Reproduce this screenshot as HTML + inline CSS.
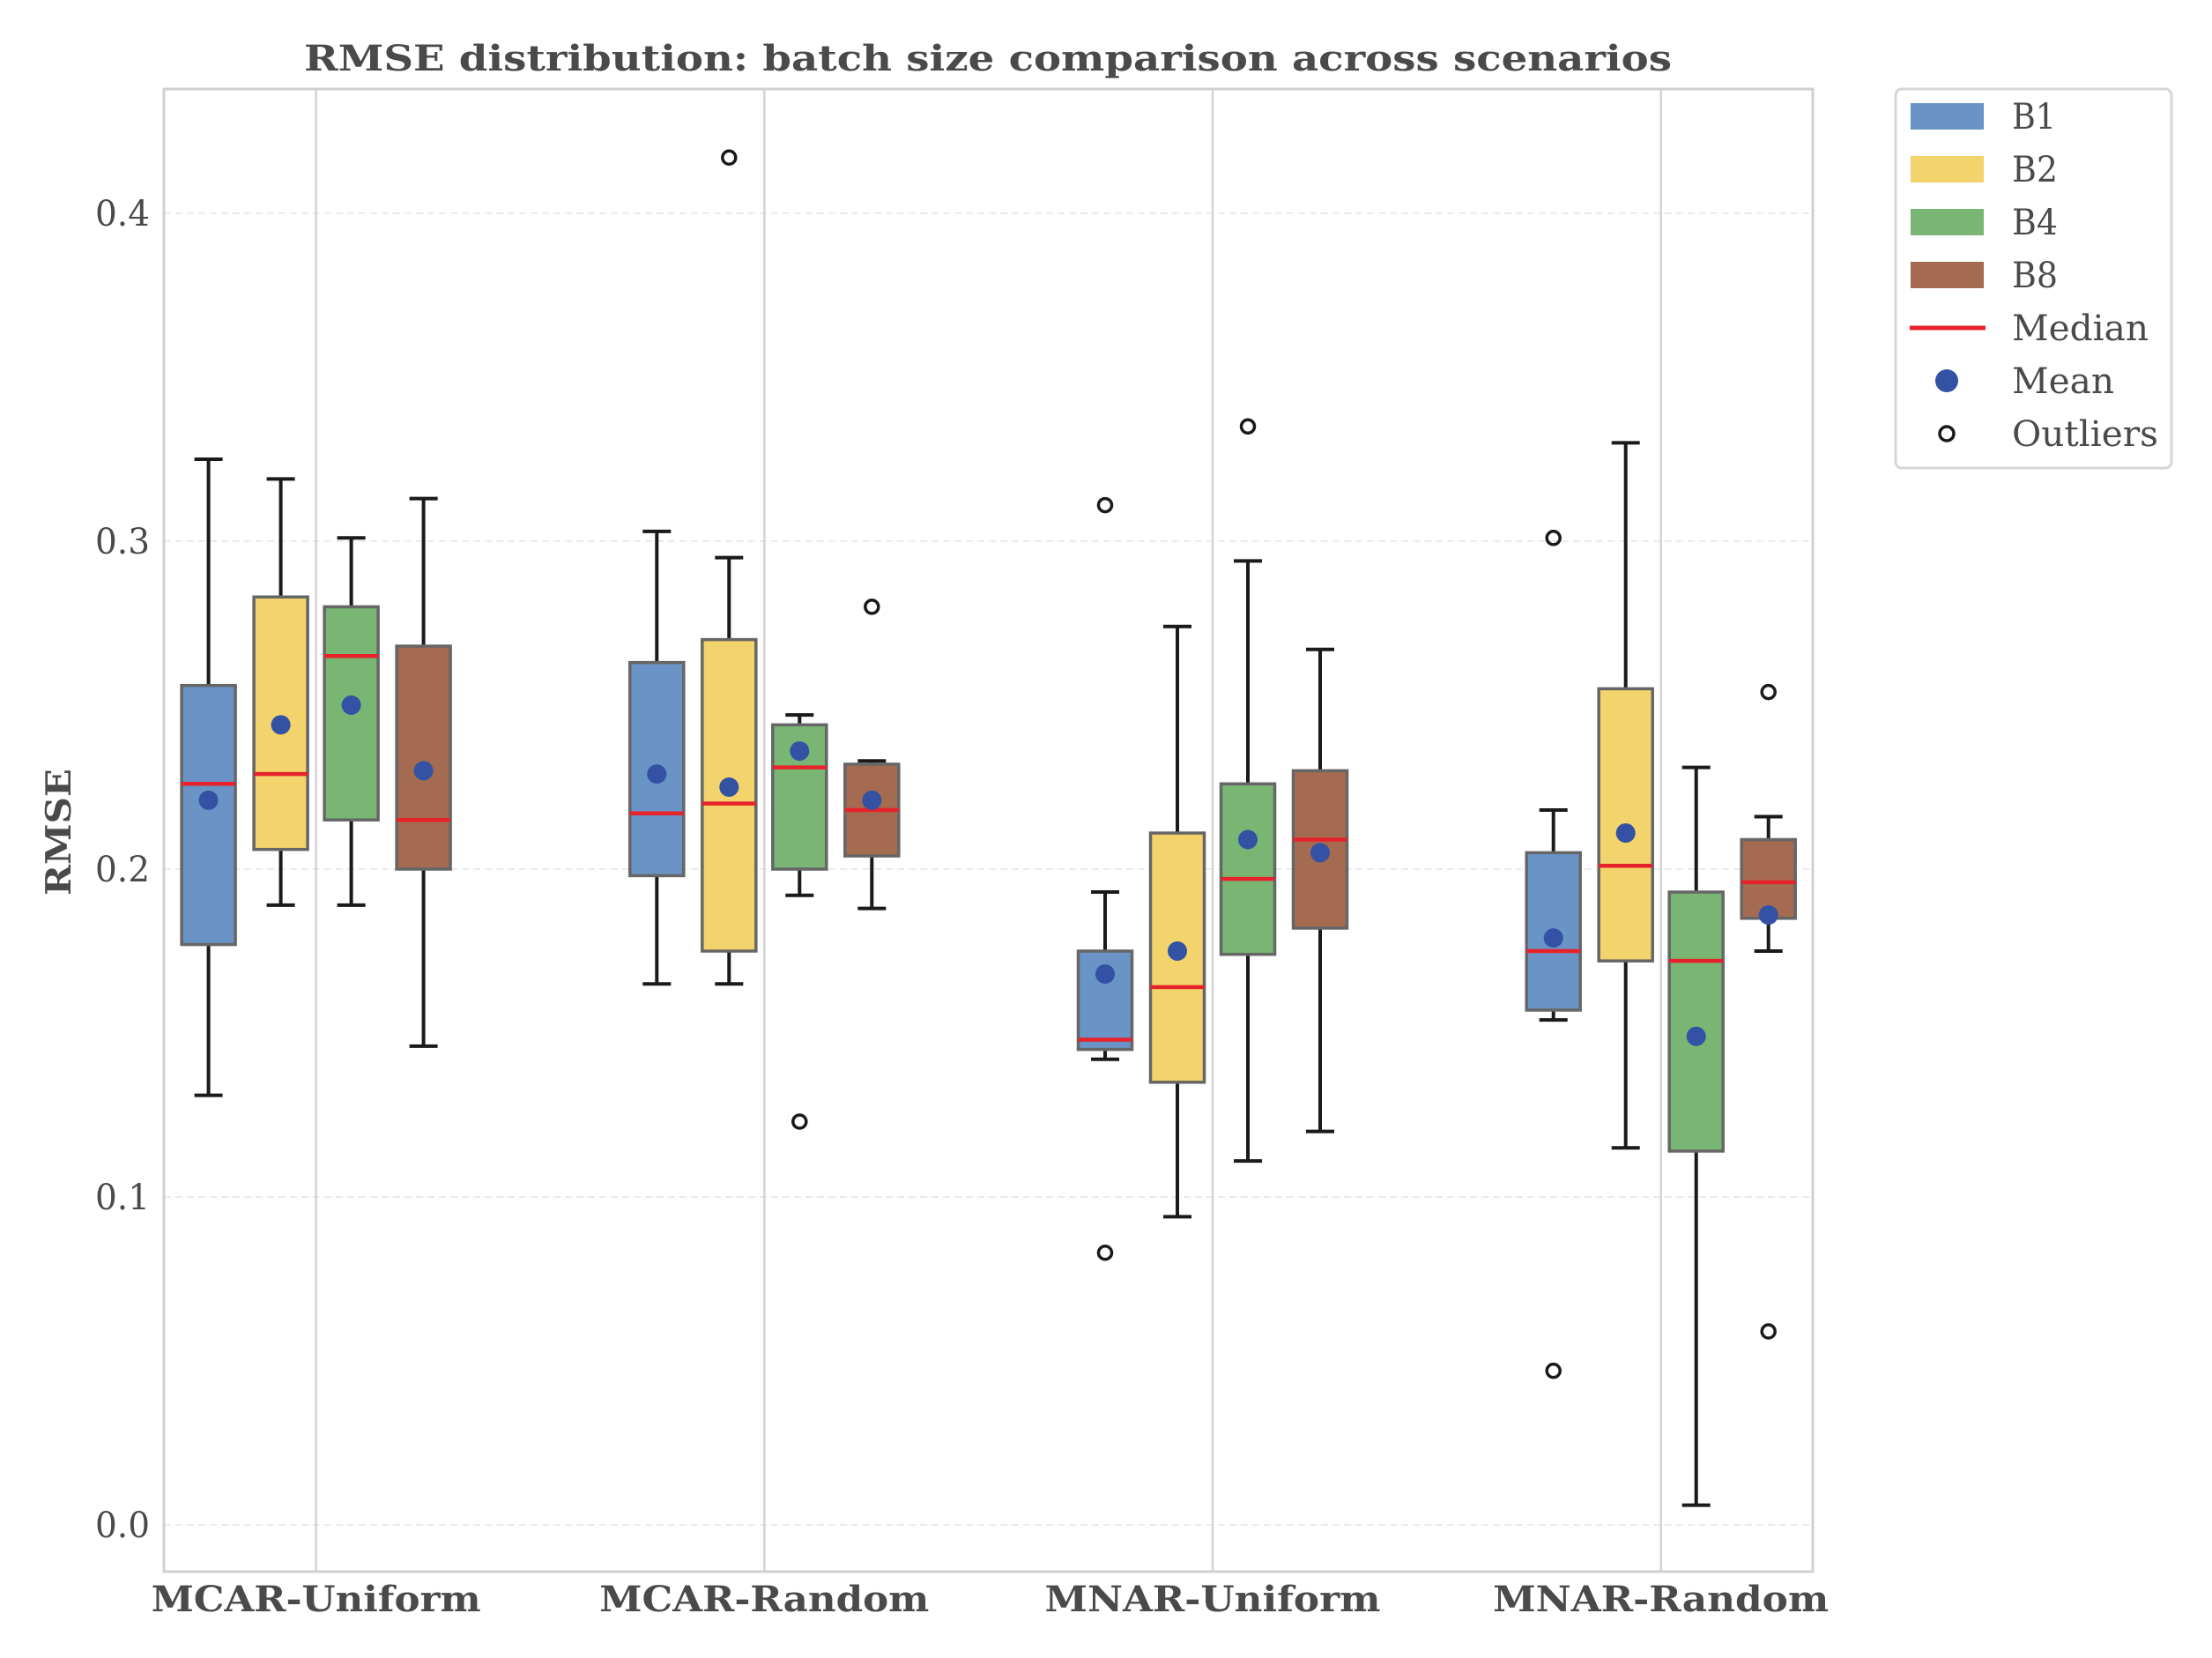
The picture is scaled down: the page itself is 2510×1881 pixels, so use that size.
<!DOCTYPE html>
<html><head><meta charset="utf-8"><style>
html,body{margin:0;padding:0;background:#fff}
svg text{font-family:"DejaVu Serif","Liberation Serif",serif;fill:#4a4a4d}
</style></head><body>
<svg id="chart" width="2510" height="1876" viewBox="0 0 2510 1876" xmlns="http://www.w3.org/2000/svg">
<rect width="2510" height="1876" fill="#fff"/>
<g id="grid"></g>
<g id="boxes"></g>
<rect x="186" y="101" width="1871" height="1682" fill="none" stroke="#d0d0d0" stroke-width="3"/>
<g id="axes"></g>
<text x="1121" y="80" font-size="40" font-weight="bold" text-anchor="middle" textLength="1552" lengthAdjust="spacingAndGlyphs">RMSE distribution: batch size comparison across scenarios</text>
<text transform="translate(80,944) rotate(-90)" font-size="39" font-weight="bold" text-anchor="middle" textLength="144" lengthAdjust="spacingAndGlyphs">RMSE</text>
<g id="legend"></g>
</svg>
<script>
const categories=["MCAR-Uniform","MCAR-Random","MNAR-Uniform","MNAR-Random"];
const series=["B1","B2","B4","B8"];
const colors=["#6a93c6","#f3d36b","#79b674","#a46b51"];
const whisLo={B1:[0.131,0.165,0.142,0.154],B2:[0.189,0.165,0.094,0.115],B4:[0.189,0.192,0.111,0.006],B8:[0.146,0.188,0.120,0.175]};
const q1={B1:[0.177,0.198,0.145,0.157],B2:[0.206,0.175,0.135,0.172],B4:[0.215,0.200,0.174,0.114],B8:[0.200,0.204,0.182,0.185]};
const med={B1:[0.226,0.217,0.148,0.175],B2:[0.229,0.220,0.164,0.201],B4:[0.265,0.231,0.197,0.172],B8:[0.215,0.218,0.209,0.196]};
const q3={B1:[0.256,0.263,0.175,0.205],B2:[0.283,0.270,0.211,0.255],B4:[0.280,0.244,0.226,0.193],B8:[0.268,0.232,0.230,0.209]};
const whisHi={B1:[0.325,0.303,0.193,0.218],B2:[0.319,0.295,0.274,0.330],B4:[0.301,0.247,0.294,0.231],B8:[0.313,0.233,0.267,0.216]};
const means={B1:[0.221,0.229,0.168,0.179],B2:[0.244,0.225,0.175,0.211],B4:[0.250,0.236,0.209,0.149],B8:[0.230,0.221,0.205,0.186]};
const outliers={B1:[[],[],[0.311,0.083],[0.301,0.047]],B2:[[],[0.417],[],[]],B4:[[],[0.123],[0.335],[]],B8:[[],[0.280],[],[0.254,0.059]]};
const yTicks=[0.0,0.1,0.2,0.3,0.4];
const yTickLabels=["0.0","0.1","0.2","0.3","0.4"];

const NS="http://www.w3.org/2000/svg";
const y=v=>1730-v*3720;
const xCat=i=>358.6+i*508.7;
const offsets=[-122,-40,40,122];
const bw=61;
const catLabelW=[374,374,381,381];
function mk(tag,attrs,parent){const e=document.createElementNS(NS,tag);for(const k in attrs)e.setAttribute(k,attrs[k]);parent.appendChild(e);return e;}
const grid=document.getElementById('grid'),boxes=document.getElementById('boxes'),axes=document.getElementById('axes'),legend=document.getElementById('legend');
yTicks.forEach((t,i)=>{
  const l=mk('line',{x1:186,x2:2057,y1:y(t),y2:y(t),stroke:'#ebebeb','stroke-width':2,'stroke-dasharray':'8,5'},grid);
  
  
  const tx=mk('text',{x:170,y:y(t)+14,'font-size':40,'text-anchor':'end',textLength:62,lengthAdjust:'spacingAndGlyphs'},axes);
  tx.textContent=yTickLabels[i];
  
  
});
categories.forEach((c,i)=>{
  const l=mk('line',{x1:xCat(i),x2:xCat(i),y1:101,y2:1783,stroke:'#d3d3d3','stroke-width':2.5},grid);
  
  
  const tx=mk('text',{x:xCat(i),y:1828,'font-size':40,'font-weight':'bold','text-anchor':'middle',textLength:catLabelW[i],lengthAdjust:'spacingAndGlyphs'},axes);
  tx.textContent=c;
  
  
});
series.forEach((s,si)=>{
  categories.forEach((c,ci)=>{
    const cx=xCat(ci)+offsets[si];
    const g=mk('g',{},boxes);
    
    
    const ws={stroke:'#1a1a1a','stroke-width':4};
    mk('line',Object.assign({x1:cx,x2:cx,y1:y(whisHi[s][ci]),y2:y(q3[s][ci])},ws),g);
    mk('line',Object.assign({x1:cx,x2:cx,y1:y(q1[s][ci]),y2:y(whisLo[s][ci])},ws),g);
    mk('line',Object.assign({x1:cx-16,x2:cx+16,y1:y(whisHi[s][ci]),y2:y(whisHi[s][ci])},ws),g);
    mk('line',Object.assign({x1:cx-16,x2:cx+16,y1:y(whisLo[s][ci]),y2:y(whisLo[s][ci])},ws),g);
    mk('rect',{x:cx-bw/2,y:y(q3[s][ci]),width:bw,height:y(q1[s][ci])-y(q3[s][ci]),fill:colors[si],stroke:'#666','stroke-width':3.5},g);
    mk('line',{x1:cx-bw/2,x2:cx+bw/2,y1:y(med[s][ci]),y2:y(med[s][ci]),stroke:'#e8222a','stroke-width':4.5},g);
    mk('circle',{cx:cx,cy:y(means[s][ci]),r:11,fill:'#3352a4'},g);
    outliers[s][ci].forEach(o=>{
      const oc=mk('circle',{cx:cx,cy:y(o),r:7.5,fill:'none',stroke:'#1a1a1a','stroke-width':3.5},g);
      
      
    });
  });
});
const lb=mk('rect',{x:2151,y:101,width:313,height:430,rx:7,fill:'#fff',stroke:'#d6d6d6','stroke-width':3},legend);


const legLabels=["B1","B2","B4","B8","Median","Mean","Outliers"];
const legW=[50,52,52,52,155,116,166];
legLabels.forEach((lab,i)=>{
  const cy=132+i*60;
  const g=mk('g',{},legend);
  
  
  if(i<4) mk('rect',{x:2168,y:cy-15,width:83,height:30,fill:colors[i]},g);
  else if(i===4) mk('line',{x1:2167,x2:2253,y1:cy,y2:cy,stroke:'#e8222a','stroke-width':5},g);
  else if(i===5) mk('circle',{cx:2209,cy:cy,r:13,fill:'#3352a4'},g);
  else mk('circle',{cx:2209,cy:cy,r:8,fill:'none',stroke:'#1a1a1a','stroke-width':3.5},g);
  const t=mk('text',{x:2283,y:cy+14,'font-size':40,textLength:legW[i],lengthAdjust:'spacingAndGlyphs'},g);
  t.textContent=lab;
});
</script>
</body></html>
